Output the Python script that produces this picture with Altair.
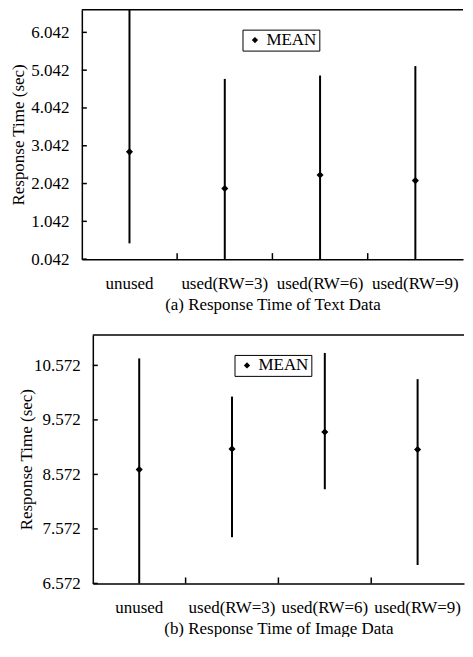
import altair as alt
import pandas as pd

FONT = "Liberation Serif"

categories = ["unused", "used(RW=3)", "used(RW=6)", "used(RW=9)"]
series_name = ["MEAN"] * 4

# (a) Response Time of Text Data
text_mean = [2.88, 1.91, 2.27, 2.12]
text_low = [0.46, 0.042, 0.042, 0.042]
text_high = [6.642, 4.81, 4.90, 5.15]
text_ticks = [0.042, 1.042, 2.042, 3.042, 4.042, 5.042, 6.042]
text_domain = [0.042, 6.642]

# (b) Response Time of Image Data
image_mean = [8.66, 9.04, 9.35, 9.03]
image_low = [6.572, 7.42, 8.30, 6.91]
image_high = [10.70, 10.00, 10.80, 10.32]
image_ticks = [6.572, 7.572, 8.572, 9.572, 10.572]
image_domain = [6.572, 11.13]


def panel(mean, low, high, ticks, ydom, caption, width, height,
          leg_x, leg_y, ylab_pad, ytitle_pad, xlab_pad, xtitle_pad):
    df = pd.DataFrame({"cat": categories, "mean": mean, "low": low,
                       "high": high, "series": series_name})
    xscale = alt.Scale(type="band", domain=categories, paddingInner=0, paddingOuter=0)
    yscale = alt.Scale(domain=ydom, nice=False, zero=False)
    xaxis = alt.Axis(ticks=False, domain=True, domainColor="black",
                     domainWidth=1.5, grid=False, labelAngle=0,
                     labelFont=FONT, labelFontSize=17, labelColor="black",
                     labelPadding=xlab_pad, title=caption, titleFont=FONT,
                     titleFontSize=17, titleFontWeight="normal",
                     titleColor="black", titlePadding=xtitle_pad)
    yaxis = alt.Axis(values=ticks, format=".3f", ticks=False,
                     domain=True, domainColor="black", domainWidth=1.5,
                     grid=False, labelFont=FONT, labelFontSize=17,
                     labelColor="black", labelPadding=ylab_pad,
                     labelFlush=False, labelOverlap=False,
                     title="Response Time (sec)", titleFont=FONT,
                     titleFontSize=17, titleFontWeight="normal",
                     titleColor="black", titlePadding=ytitle_pad)

    bars = alt.Chart(df).mark_rule(color="black", strokeWidth=2).encode(
        x=alt.X("cat:N", sort=categories, scale=xscale, axis=xaxis),
        y=alt.Y("low:Q", scale=yscale, axis=yaxis),
        y2="high:Q",
    )

    pts = alt.Chart(df).mark_point(filled=True, size=50, opacity=1, color="black").encode(
        x=alt.X("cat:N", sort=categories, scale=xscale, axis=xaxis),
        y=alt.Y("mean:Q", scale=yscale, axis=yaxis),
        shape=alt.Shape("series:N", scale=alt.Scale(range=["diamond"]),
                        legend=alt.Legend(title=None, orient="none", legendX=leg_x,
                                          legendY=leg_y, strokeColor="black",
                                          fillColor="white", padding=2,
                                          symbolSize=40, symbolFillColor="black",
                                          symbolStrokeWidth=0, symbolOffset=2,
                                          labelOffset=3, labelFont=FONT,
                                          labelFontSize=17, labelColor="black")),
    )

    xt = alt.Chart(pd.DataFrame({"cat": categories[1:]})).mark_rule(
        color="black", strokeWidth=1.5).encode(
        x=alt.X("cat:N", sort=categories, scale=xscale, axis=xaxis, bandPosition=0),
        y=alt.value(height),
        y2=alt.value(height - 6),
    )

    yt = alt.Chart(pd.DataFrame({"t": ticks})).mark_rule(
        color="black", strokeWidth=1.5).encode(
        y=alt.Y("t:Q", scale=yscale, axis=yaxis),
        x=alt.value(0),
        x2=alt.value(5),
    )

    # top border of the frame (right side runs off the page in the original)
    border = alt.Chart(pd.DataFrame({"b": [0]})).mark_rule(
        color="black", strokeWidth=1.5).encode(
        y=alt.value(0), x=alt.value(0), x2=alt.value(width),
    )

    return alt.layer(bars, pts, xt, yt, border).properties(width=width, height=height)


def spacer(w):
    return alt.Chart(pd.DataFrame({"s": [0]})).mark_rule(
        strokeWidth=0, strokeOpacity=0).encode(
        x=alt.value(0), x2=alt.value(0), y=alt.value(0), y2=alt.value(0)
    ).properties(width=w, height=1)


top_core = panel(text_mean, text_low, text_high, text_ticks, text_domain,
                 "(a) Response Time of Text Data", 382, 250,
                 235, 20, 13, 3.5, 16, 5)
bottom_core = panel(image_mean, image_low, image_high, image_ticks, image_domain,
                    "(b) Response Time of Image Data", 372, 249,
                    227, 20, 12.7, -2, 16, 5)

top = alt.hconcat(spacer(1), top_core, spacing=0)
bottom = alt.hconcat(spacer(9), bottom_core, spacing=0)

chart = alt.vconcat(top, bottom, spacing=22).properties(
    padding={"left": 0, "top": 0, "right": 0, "bottom": 0},
    background="white",
).resolve_scale(shape="independent").configure_view(stroke="transparent", strokeWidth=0)

chart.save("out.html", embed_options={"renderer": "svg", "actions": False})
